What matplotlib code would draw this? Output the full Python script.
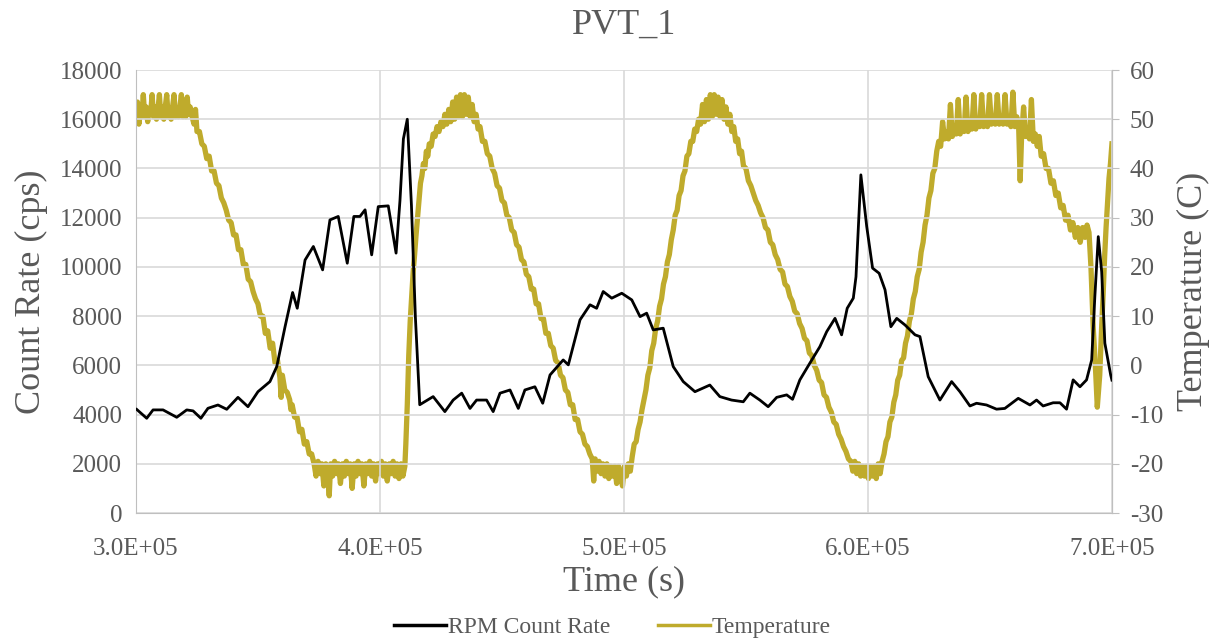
import numpy as np
import matplotlib.pyplot as plt

plt.rcParams['font.family'] = ['Liberation Serif', 'DejaVu Serif']
plt.rcParams['axes.unicode_minus'] = False

# RPM count rate (time in ks, counts per second)
rpm_time_ks = [300.3, 304.4, 307.0, 311.1, 316.7, 320.8, 323.4, 326.6, 329.5, 333.6,
               337.2, 341.8, 345.9, 350.0, 354.9, 357.7, 361.1, 364.2, 366.1, 369.3,
               372.7, 376.5, 379.5, 382.9, 386.6, 389.3, 391.8, 393.9, 396.6, 399.3,
               403.4, 406.6, 408.2, 409.6, 411.2, 412.9, 414.5, 416.3, 421.8, 426.6,
               430.0, 433.5, 436.9, 439.6, 443.7, 446.4, 449.2, 453.3, 456.7, 459.4,
               463.5, 466.7, 469.7, 475.1, 477.2, 482.0, 486.1, 488.8, 491.5, 495.0,
               499.1, 503.2, 506.6, 509.3, 512.0, 516.1, 520.2, 524.3, 529.1, 535.2,
               539.3, 544.1, 548.9, 551.6, 555.7, 559.1, 562.6, 566.7, 569.1, 572.1,
               576.2, 580.3, 583.1, 586.5, 589.2, 591.5, 594.0, 595.1, 597.1, 599.5,
               601.9, 604.6, 607.0, 609.4, 611.8, 615.2, 619.3, 621.3, 624.7, 629.5,
               634.3, 637.7, 641.8, 644.5, 648.6, 652.7, 656.1, 661.6, 666.4, 669.1,
               671.8, 675.9, 678.7, 681.4, 684.1, 686.9, 689.6, 691.7, 693.0, 694.4,
               695.8, 697.1, 699.5, 700.0]
rpm_counts = [4210, 3850, 4190, 4190, 3890, 4190, 4150, 3850, 4255, 4390,
              4215, 4700, 4320, 4930, 5340, 5950, 7570, 8960, 8320, 10280,
              10830, 9880, 11910, 12050, 10150, 12050, 12050, 12320, 10490, 12450,
              12480, 10560, 12700, 15200, 16000, 12500, 8000, 4400, 4730, 4120,
              4590, 4870, 4250, 4590, 4590, 4120, 4870, 5000, 4250, 5000,
              5130, 4460, 5610, 6220, 6020, 7850, 8460, 8320, 9000, 8730,
              8930, 8660, 7980, 8120, 7440, 7510, 5950, 5340, 4930, 5200,
              4730, 4590, 4520, 4870, 4590, 4320, 4700, 4800, 4620, 5410,
              6090, 6760, 7370, 7910, 7240, 8320, 8730, 9600, 13740, 11640,
              9950, 9740, 9070, 7570, 7910, 7640, 7240, 7170, 5540, 4590,
              5340, 4930, 4350, 4460, 4390, 4220, 4250, 4660, 4390, 4590,
              4350, 4480, 4480, 4220, 5410, 5130, 5410, 6220, 8800, 11230,
              9800, 6900, 5600, 5400]

# Temperature (time in ks, degrees C)
temp_time_ks = [
    300.0, 300.6, 301.2, 301.8, 302.4, 303.0, 303.6, 304.2, 304.8, 305.4, 306.0, 306.6,
    307.2, 307.8, 308.4, 309.0, 309.6, 310.2, 310.8, 311.4, 312.0, 312.6, 313.2, 313.8,
    314.4, 315.0, 315.6, 316.2, 316.8, 317.4, 318.0, 318.6, 319.2, 319.8, 320.4, 321.0,
    321.6, 322.2, 323.0, 323.8, 324.4, 325.0, 326.0, 327.0, 328.0, 329.0, 330.0, 331.0,
    332.0, 333.0, 334.0, 335.0, 336.0, 337.0, 338.0, 339.0, 340.0, 341.0, 342.0, 343.0,
    344.0, 345.0, 346.0, 347.0, 348.0, 349.0, 350.0, 351.0, 352.0, 353.0, 354.0, 355.0,
    356.0, 357.0, 358.0, 359.0, 359.5, 360.0, 361.0, 362.0, 363.0, 363.5, 364.0, 365.0,
    366.0, 367.0, 368.0, 369.0, 370.0, 371.0, 372.0,
    373.0, 373.8, 374.6, 375.4, 376.2, 377.0, 377.8, 378.6, 379.2, 379.8, 380.6, 381.4,
    382.2, 383.0, 383.8, 384.6, 385.4, 386.2, 387.0, 387.8, 388.6, 389.4, 390.2, 391.0,
    391.8, 392.6, 393.4, 394.2, 395.0, 395.8, 396.6, 397.4, 398.2, 399.0, 399.8, 400.6,
    401.4, 402.2, 403.0, 403.8, 404.6, 405.4, 406.2, 407.0, 407.8, 408.6, 409.4, 410.2,
    410.6, 411.2, 411.8, 412.4, 413.0, 413.6, 414.2, 414.8, 415.4, 416.0, 416.6, 417.2,
    417.8, 418.4, 419.0, 419.6, 420.2, 421.0, 421.8, 422.6, 423.4, 424.2, 425.0, 425.8,
    426.6, 427.4, 428.2, 429.0, 429.8, 430.6, 431.4, 432.2, 433.0, 433.8, 434.6, 435.4,
    436.2, 437.0, 437.8, 438.6, 439.4, 440.2, 441.0, 442.0, 443.0, 444.0, 445.0, 446.0,
    447.0, 448.0, 449.0, 450.0, 451.0, 452.0, 453.0, 454.0, 455.0, 456.0, 457.0, 458.0,
    459.0, 460.0, 461.0, 462.0, 463.0, 464.0, 465.0, 466.0, 467.0, 468.0, 469.0, 470.0,
    471.0, 472.0, 473.0, 474.0, 475.0, 476.0, 477.0, 478.0, 479.0, 480.0, 481.0, 482.0,
    483.0, 484.0, 485.0, 486.0, 487.0, 487.6, 488.2,
    489.0, 489.8, 490.6, 491.4, 492.2, 493.0, 493.8, 494.6, 495.4, 496.2, 497.0, 497.8,
    498.6, 499.4, 500.2, 501.0, 501.8, 502.6,
    503.4, 504.2, 505.0, 505.8, 506.6, 507.4, 508.2, 509.0, 509.8, 510.6, 511.4, 512.2,
    513.0, 513.8, 514.6, 515.4, 516.2, 517.0, 517.8, 518.6, 519.4, 520.2, 521.0, 521.8,
    522.6, 523.4, 524.2, 525.0, 525.8, 526.6, 527.4, 528.2, 529.0, 529.8, 530.6, 531.4,
    532.2, 533.0, 533.8, 534.6, 535.4, 536.2, 537.0, 537.8, 538.6, 539.4, 540.2, 541.0,
    541.8, 542.6, 543.4, 544.2, 545.0, 545.8, 546.6, 547.4, 548.2, 549.0, 550.0, 551.0,
    552.0, 553.0, 554.0, 555.0, 556.0, 557.0, 558.0, 559.0, 560.0, 561.0, 562.0, 563.0,
    564.0, 565.0, 566.0, 567.0, 568.0, 569.0, 570.0, 571.0, 572.0, 573.0, 574.0, 575.0,
    576.0, 577.0, 578.0, 579.0, 580.0, 581.0, 582.0, 583.0, 584.0, 585.0, 586.0, 587.0,
    588.0, 589.0, 590.0, 591.0, 592.0, 593.0,
    593.8, 594.6, 595.4, 596.2, 597.0, 597.8, 598.6, 599.4, 600.2, 601.0, 601.8, 602.6,
    603.4, 604.2, 605.0, 605.8,
    606.6, 607.4, 608.2, 609.0, 609.8, 610.6, 611.4, 612.2, 613.0, 613.8, 614.6, 615.4,
    616.2, 617.0, 617.8, 618.6, 619.4, 620.2, 621.0, 621.8, 622.6, 623.4, 624.2, 625.0,
    625.8, 626.6, 627.4, 628.2, 629.0, 629.8, 630.6, 631.4, 632.2, 633.0, 633.8, 634.6,
    635.4, 636.2, 637.0, 637.8, 638.6, 639.4, 640.2, 641.0, 641.8, 642.6, 643.4, 644.2,
    645.0, 645.8, 646.6, 647.4, 648.2, 649.0, 649.8, 650.6, 651.4, 652.2, 653.0, 653.8,
    654.6, 655.4, 656.2, 657.0, 657.8, 658.6, 659.4, 660.2, 661.0, 661.8, 662.4, 663.0,
    663.8, 664.6, 665.4, 666.2, 667.0, 667.8, 668.6, 669.4, 670.2, 671.0, 672.0, 673.0,
    674.0, 675.0, 676.0, 677.0, 678.0, 679.0, 680.0, 681.0, 682.0, 683.0, 684.0, 685.0,
    686.0, 687.0, 688.0, 689.0, 689.8, 690.6, 691.4, 692.3, 693.2, 694.0, 695.0, 695.8,
    696.4, 697.0, 697.6, 698.2, 698.8, 699.4, 700.0]
temp_c = [
    51.0, 53.5, 49.0, 52.5, 50.5, 55.0, 50.5, 52.5, 49.5, 52.0, 51.0, 55.0,
    50.5, 52.5, 50.0, 52.0, 55.0, 50.5, 52.5, 50.0, 52.5, 55.0, 50.5, 52.0,
    50.0, 52.5, 55.0, 50.5, 52.0, 50.5, 52.5, 55.0, 50.5, 52.0, 50.5, 54.5,
    51.0, 52.5, 50.5, 49.0, 52.0, 47.5, 47.5, 45.0, 44.5, 42.0, 42.5, 39.5,
    39.5, 37.0, 36.5, 34.0, 33.0, 31.5, 29.5, 29.0, 26.5, 26.5, 23.5, 23.5,
    20.5, 20.5, 17.5, 17.0, 15.0, 13.5, 12.5, 10.0, 10.0, 6.5, 7.0, 3.5,
    4.5, 0.5, 1.0, -2.5, -6.5, -2.0, -5.0, -5.5, -7.0, -9.0, -8.0, -10.5,
    -10.5, -13.5, -13.0, -16.0, -15.5, -18.0, -18.0,
    -20.0, -22.5, -19.5, -22.0, -20.0, -24.5, -20.0, -22.0, -26.5, -20.0, -22.5, -19.5,
    -22.0, -20.0, -24.0, -20.0, -22.5, -19.5, -22.0, -20.0, -25.0, -20.0, -22.5, -19.5,
    -22.0, -20.0, -24.5, -20.0, -22.0, -19.5, -22.5, -20.0, -23.5, -20.0, -22.0, -19.5,
    -22.5, -20.0, -23.5, -20.0, -22.0, -19.5, -22.5, -20.0, -23.0, -20.0, -22.5, -20.5,
    -16.0, -8.0, 2.0, 9.0, 14.0, 19.0, 22.5, 26.5, 30.0, 33.5, 37.0, 38.5,
    41.0, 40.0, 43.5, 42.5, 45.0, 44.5, 47.0, 46.5, 48.5, 47.5, 49.5, 48.5,
    51.0, 49.0, 52.0, 49.5, 53.5, 50.0, 54.5, 50.5, 55.0, 50.5, 55.0, 51.0,
    54.5, 50.5, 53.0, 49.5, 51.0, 48.0, 48.5, 45.5, 45.5, 43.0, 42.5, 40.0,
    39.0, 36.5, 36.0, 33.5, 33.0, 30.5, 30.0, 27.5, 27.0, 24.5, 24.0, 21.5,
    21.0, 18.5, 18.0, 15.5, 15.5, 12.5, 12.5, 9.5, 9.5, 6.5, 6.5, 4.0,
    3.5, 1.0, 0.5, -2.0, -2.5, -5.0, -5.5, -8.0, -8.0, -11.0, -11.0, -13.5,
    -14.0, -16.0, -16.5, -18.0, -19.0, -23.5, -19.0,
    -21.5, -19.5, -22.0, -20.0, -22.5, -20.0, -23.0, -20.5, -22.5, -20.5, -24.0, -20.5,
    -22.5, -24.5, -20.5, -22.5, -20.0, -21.5,
    -18.5, -16.0, -15.5, -13.0, -11.5, -9.0, -7.0, -5.0, -2.0, -0.5, 3.0, 4.5,
    7.5, 9.0, 12.0, 13.5, 16.5, 18.0, 21.0, 22.5, 25.5, 27.5, 30.5, 31.5,
    34.5, 35.5, 38.5, 39.5, 42.5, 43.0, 45.5, 45.5, 48.0, 47.5, 50.0, 49.0,
    53.0, 49.5, 54.0, 50.0, 55.0, 50.5, 55.0, 51.0, 54.5, 50.5, 54.0, 50.0,
    52.5, 49.0, 51.0, 47.5, 48.5, 45.5, 46.0, 43.0, 43.5, 40.5, 40.0, 37.5,
    36.5, 35.0, 33.5, 32.5, 31.0, 30.0, 28.0, 27.5, 25.0, 24.5, 22.5, 21.5,
    19.5, 19.0, 16.5, 16.0, 14.0, 13.0, 11.0, 10.5, 8.5, 7.5, 5.5, 5.0,
    2.5, 2.0, 0.0, -1.0, -3.0, -3.5, -6.0, -6.5, -8.5, -9.5, -11.5, -12.0,
    -14.0, -15.0, -16.5, -17.5, -19.0, -19.5,
    -21.5, -19.5, -22.0, -20.0, -22.5, -20.5, -22.5, -20.5, -23.0, -20.5, -22.5, -20.5,
    -23.0, -20.0, -22.0, -19.5,
    -18.0, -15.5, -14.5, -11.5, -10.5, -7.5, -6.0, -3.0, -2.0, 1.0, 1.5, 4.5,
    6.0, 9.0, 10.5, 13.5, 15.0, 18.0, 19.5, 23.0, 25.0, 28.5, 30.5, 34.0,
    35.5, 39.0, 40.0, 43.5, 45.5, 44.5, 49.5, 46.0, 47.5, 46.0, 53.0, 46.5,
    48.5, 47.0, 54.0, 47.0, 49.0, 47.5, 54.5, 47.5, 49.5, 48.0, 55.0, 48.0,
    50.0, 48.5, 55.0, 48.5, 50.0, 48.5, 55.0, 49.0, 50.5, 49.0, 55.0, 49.0,
    50.5, 49.0, 55.0, 49.0, 50.5, 48.5, 55.5, 48.5, 50.5, 48.0, 37.5, 47.0,
    52.5, 46.5, 48.0, 46.0, 54.0, 45.5, 47.0, 44.5, 46.5, 42.5, 43.0, 40.0,
    40.0, 37.0, 37.5, 34.5, 35.0, 32.0, 32.5, 29.5, 30.5, 27.5, 29.0, 26.0,
    28.0, 25.0, 28.0, 26.0, 28.5, 27.0, 20.0, 8.0, 0.0, -8.5, -2.0, 8.0,
    14.5, 22.0, 28.0, 33.0, 38.0, 41.0, 45.0]

rpm_time = np.array(rpm_time_ks) * 1000
temp_time = np.array(temp_time_ks) * 1000

text_gray = '#595959'
grid_gray = '#d9d9d9'
axis_gray = '#bfbfbf'
olive = '#bfab2c'

fig = plt.figure(figsize=(12.25, 6.4), dpi=100)
ax = fig.add_axes([0.111, 0.1984, 0.7967, 0.6922])
ax2 = ax.twinx()

l1, = ax.plot(rpm_time, rpm_counts, color='black', lw=2.0, label='RPM Count Rate', zorder=3)
l2, = ax2.plot(temp_time, temp_c, color=olive, lw=3.8, label='Temperature', zorder=2)
ax.set_zorder(ax2.get_zorder() + 1)
ax.patch.set_visible(False)

ax.set_xlim(3e5, 7e5)
ax.set_ylim(0, 18000)
ax2.set_ylim(-30, 60)
ax.set_xticks([3e5, 4e5, 5e5, 6e5, 7e5])
ax.set_xticklabels(['3.0E+05', '4.0E+05', '5.0E+05', '6.0E+05', '7.0E+05'])
ax.set_yticks(np.arange(0, 18001, 2000))
ax2.set_yticks(np.arange(-30, 61, 10))

ax.grid(True, color=grid_gray, lw=1.2)
ax.tick_params(axis='y', length=0, labelsize=18, labelcolor=text_gray, pad=10)
ax.tick_params(axis='x', length=0, labelsize=18, labelcolor=text_gray, pad=18)
ax2.tick_params(axis='y', length=5, color=axis_gray, labelsize=18, labelcolor=text_gray, pad=8)

for a in (ax, ax2):
    for s in a.spines.values():
        s.set_color(axis_gray)
    a.spines['top'].set_visible(False)
ax2.spines['left'].set_visible(False)
ax2.spines['bottom'].set_visible(False)

ax.set_title('PVT_1', fontsize=26, color=text_gray, pad=26)
ax.set_xlabel('Time (s)', fontsize=26, color=text_gray, labelpad=4)
ax.set_ylabel('Count Rate (cps)', fontsize=26, color=text_gray, labelpad=8)
ax2.set_ylabel('Temperature (C)', fontsize=26, color=text_gray, labelpad=10)

fig.legend(handles=[l1, l2], loc='lower center', bbox_to_anchor=(0.5, -0.03), ncol=2,
           frameon=False, fontsize=17, handlelength=2.2, columnspacing=2.0,
           handletextpad=0.1, labelcolor=text_gray)
for h in fig.legends[0].get_lines():
    h.set_linewidth(2.5)

fig.savefig('out.png', dpi=100)
